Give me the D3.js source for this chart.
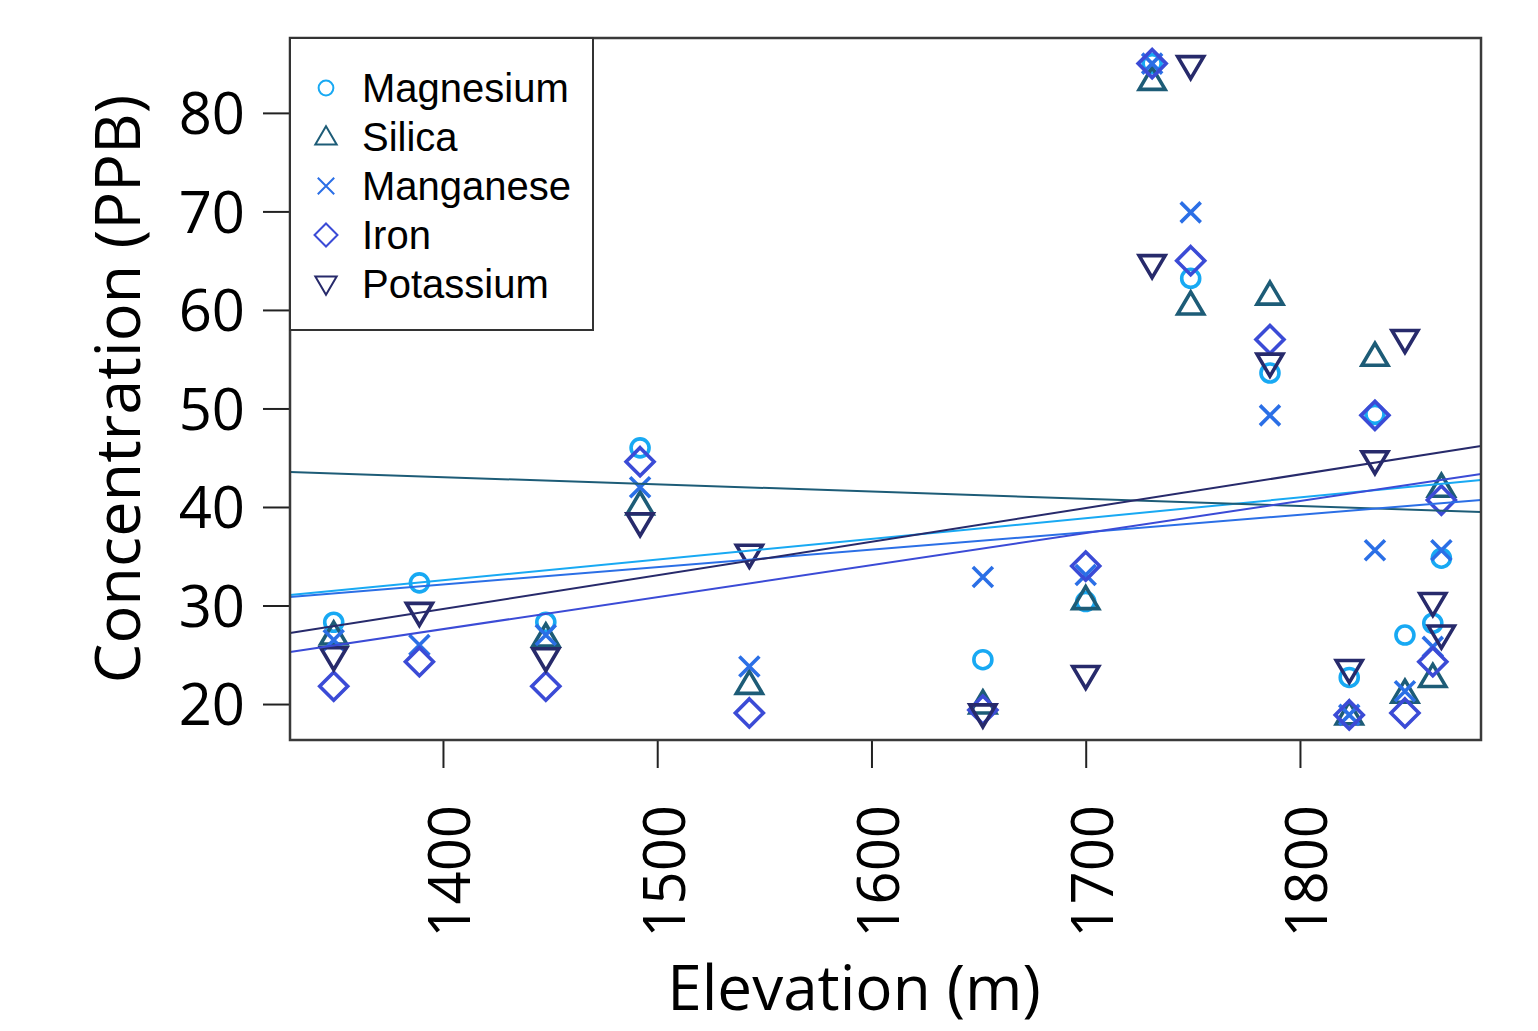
<!DOCTYPE html>
<html>
<head>
<meta charset="utf-8">
<script src="https://cdn.jsdelivr.net/npm/d3@7"></script>
<style>
  body { margin: 0; background: #fff; }
  svg { display: block; }
</style>
</head>
<body>
<div id="chart"></div>
<script>
const width = 1538, height = 1031;

// site elevations (m)
const elevation = [1349, 1389, 1448, 1492, 1543, 1652, 1700, 1731, 1749, 1786, 1823, 1835, 1849, 1862, 1866];
// concentrations (PPB), null = not shown
const magnesium = [28.3, 32.3, 28.3, 46.0, null, 24.5, 30.4, 85.0, 63.2, 53.6, 22.7, 49.4, 27.0, 28.2, 34.8];
const silica    = [27.0, null, 26.8, 40.2, 22.0, 20.0, 30.6, 83.3, 60.5, 61.5, 18.9, 55.3, 21.1, 22.7, 42.0];
const manganese = [26.5, 26.0, 27.0, 42.0, 23.8, 32.9, 33.1, 85.0, 69.9, 49.3, 18.9, 35.6, 21.3, 25.8, 35.6];
const iron      = [21.8, 24.3, 21.8, 44.6, 19.1, 19.4, 34.0, 85.0, 65.0, 57.0, 18.9, 49.3, 19.1, 24.3, 40.7];
const potassium = [24.8, 29.3, 24.7, 38.4, 35.2, 19.0, 22.9, 64.6, 84.8, 54.6, 23.5, 44.7, 57.0, 30.3, 27.0];

const names  = ["Magnesium", "Silica", "Manganese", "Iron", "Potassium"];
const colors = ["#18a9f3", "#1d5c77", "#2b6fe6", "#3b4bd6", "#272a6b"];
const shapes = ["circle", "up", "cross", "diamond", "down"];
const values = [magnesium, silica, manganese, iron, potassium];

// fitted lines read at left / right edge of the plot
const xDomain = [1328.6, 1884.5];
const fitLeft  = [31.07, 43.55, 30.86, 25.28, 27.21];
const fitRight = [42.74, 39.49, 40.71, 43.35, 46.19];

const xTicks = [1400, 1500, 1600, 1700, 1800];
const yTicks = [20, 30, 40, 50, 60, 70, 80];

const pLeft = 290, pRight = 1481, pTop = 38, pBottom = 740;

const svg = d3.select("#chart").append("svg")
  .attr("width", width)
  .attr("height", height);

const x = d3.scaleLinear().domain(xDomain).range([pLeft, pRight]);
const y = d3.scaleLinear().domain([16.35, 87.6]).range([pBottom, pTop]);

function shapePath(kind, s) {
  if (kind == "up") return `M0,${-13*s}L${13*s},${9*s}L${-13*s},${9*s}Z`;
  if (kind == "down") return `M0,${13*s}L${13*s},${-9*s}L${-13*s},${-9*s}Z`;
  if (kind == "diamond") return `M0,${-14*s}L${14*s},0L0,${14*s}L${-14*s},0Z`;
  if (kind == "cross") return `M${-10*s},${-10*s}L${10*s},${10*s}M${10*s},${-10*s}L${-10*s},${10*s}`;
  const r = 9 * s;
  return `M${r},0A${r},${r} 0 1,1 ${-r},0A${r},${r} 0 1,1 ${r},0Z`;
}

// points
names.forEach((name, k) => {
  const pts = elevation.map((e, i) => ({ e: e, v: values[k][i] })).filter(d => d.v != null);
  svg.append("g").selectAll("path")
    .data(pts)
    .enter().append("path")
    .attr("transform", d => `translate(${x(d.e)},${y(d.v)})`)
    .attr("d", shapePath(shapes[k], 1))
    .attr("fill", "none")
    .attr("stroke", colors[k])
    .attr("stroke-width", 3.6)
    .attr("stroke-linejoin", "miter");
});

// fit lines
names.forEach((name, k) => {
  svg.append("line")
    .attr("x1", x(xDomain[0])).attr("y1", y(fitLeft[k]))
    .attr("x2", x(xDomain[1])).attr("y2", y(fitRight[k]))
    .attr("stroke", colors[k])
    .attr("stroke-width", 2);
});

// axes
const yAxis = svg.append("g")
  .attr("transform", `translate(${pLeft},0)`)
  .call(d3.axisLeft(y).tickValues(yTicks).tickSize(27).tickPadding(18).tickSizeOuter(0));
yAxis.select(".domain").remove();
yAxis.selectAll("line").attr("stroke", "#222").attr("stroke-width", 2);
yAxis.selectAll("text")
  .attr("font-family", "Open Sans")
  .attr("font-size", 58)
  .attr("fill", "#000")
  .attr("dy", "0.36em");

const xAxis = svg.append("g")
  .attr("transform", `translate(0,${pBottom})`)
  .call(d3.axisBottom(x).tickValues(xTicks).tickFormat(d3.format("d")).tickSize(28).tickSizeOuter(0));
xAxis.select(".domain").remove();
xAxis.selectAll("line").attr("stroke", "#222").attr("stroke-width", 2);
xAxis.selectAll("text")
  .attr("font-family", "Open Sans")
  .attr("font-size", 58)
  .attr("fill", "#000")
  .attr("text-anchor", "end")
  .attr("dy", "0.36em")
  .attr("transform", d => `translate(6,${805 - pBottom}) rotate(-90)`)
  .attr("x", 0)
  .attr("y", 0);

// plot box
svg.append("rect")
  .attr("x", pLeft).attr("y", pTop)
  .attr("width", pRight - pLeft).attr("height", pBottom - pTop)
  .attr("fill", "none")
  .attr("stroke", "#3a3a3a")
  .attr("stroke-width", 2.5);

// axis titles
svg.append("text")
  .attr("transform", `translate(140,${(pTop + 690) / 2 + 25}) rotate(-90)`)
  .attr("text-anchor", "middle")
  .attr("font-family", "Open Sans")
  .attr("font-size", 63)
  .text("Concentration (PPB)");

svg.append("text")
  .attr("x", 854).attr("y", 1010)
  .attr("text-anchor", "middle")
  .attr("font-family", "Open Sans")
  .attr("font-size", 62)
  .text("Elevation (m)");

// legend
const legend = svg.append("g");
legend.append("rect")
  .attr("x", pLeft).attr("y", pTop)
  .attr("width", 593 - pLeft).attr("height", 330 - pTop)
  .attr("fill", "#fff")
  .attr("stroke", "#333")
  .attr("stroke-width", 2);
const rows = legend.selectAll(".row")
  .data(names)
  .enter().append("g")
  .attr("class", "row")
  .attr("transform", (d, i) => `translate(326,${88 + i * 49})`);
rows.append("path")
  .attr("d", (d, i) => shapePath(shapes[i], 0.82))
  .attr("fill", "none")
  .attr("stroke", (d, i) => colors[i])
  .attr("stroke-width", 2);
rows.append("text")
  .attr("x", 36)
  .attr("dy", "0.36em")
  .attr("font-family", "Liberation Sans")
  .attr("font-size", 40)
  .attr("fill", "#000")
  .text(d => d);
</script>
</body>
</html>
